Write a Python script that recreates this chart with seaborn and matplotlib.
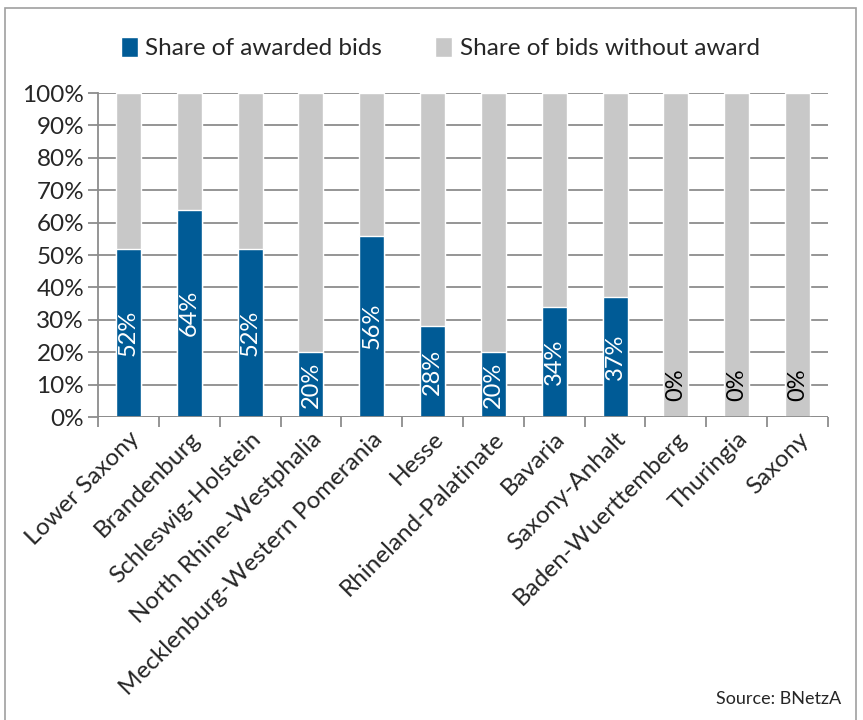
import pandas as pd
import seaborn as sns
import matplotlib.pyplot as plt
from matplotlib.patches import Rectangle
from matplotlib.ticker import PercentFormatter

# Data
states = ['Lower Saxony', 'Brandenburg', 'Schleswig-Holstein', 'North Rhine-Westphalia',
          'Mecklenburg-Western Pomerania', 'Hesse', 'Rhineland-Palatinate', 'Bavaria',
          'Saxony-Anhalt', 'Baden-Wuerttemberg', 'Thuringia', 'Saxony']
awarded = [52, 64, 52, 20, 56, 28, 20, 34, 37, 0, 0, 0]
total = [100] * len(states)

df = pd.DataFrame({'state': states, 'awarded': awarded, 'total': total})

blue = '#005b96'
grey = '#c8c8c8'
gridc = '#8c8c8c'

sns.set_style('white')
plt.rcParams['font.family'] = ['Lato', 'DejaVu Sans']

fig = plt.figure(figsize=(8.63, 7.2), dpi=100)
ax = fig.add_axes([0.1136, 0.4208, 0.8458, 0.45])

sns.barplot(data=df, x='state', y='total', color=grey, width=0.41, ax=ax,
            saturation=1, label='Share of bids without award', zorder=3)
sns.barplot(data=df, x='state', y='awarded', color=blue, width=0.41, ax=ax,
            saturation=1, label='Share of awarded bids', zorder=3)
if ax.get_legend() is not None:
    ax.get_legend().remove()

# data labels
for i, v in enumerate(awarded):
    if v > 0:
        ax.text(i, v / 2, f'{v}%', rotation=90, ha='center', va='center',
                color='white', fontsize=17, zorder=4)
    else:
        ax.text(i, 10, f'{v}%', rotation=90, ha='center', va='center',
                color='black', fontsize=17, zorder=4)

ax.set_ylim(0, 100)
ax.set_xlim(-0.5, len(states) - 0.5)
ax.set_yticks(range(0, 101, 10))
ax.yaxis.set_major_formatter(PercentFormatter(decimals=0))
ax.grid(axis='y', color=gridc, linewidth=1.3, zorder=0)
ax.set_axisbelow(True)
ax.set_xlabel('')
ax.set_ylabel('')

for s in ['top', 'right', 'bottom']:
    ax.spines[s].set_visible(False)
ax.spines['left'].set_color(gridc)
ax.spines['left'].set_linewidth(1.3)

ax.tick_params(axis='y', length=7, width=1.3, color=gridc, labelsize=17.5, pad=3, left=True)
ax.set_xticks(range(len(states)))
ax.set_xticklabels(states, rotation=45, ha='right', rotation_mode='anchor', fontsize=17.5)
ax.tick_params(axis='x', length=0, pad=8)
ax.set_xticks([i - 0.5 for i in range(len(states) + 1)], minor=True)
ax.tick_params(axis='x', which='minor', length=7, width=1.3, color=gridc, bottom=True)
ax.axhline(0, color=gridc, linewidth=1.3, zorder=5)

handles, labels = ax.get_legend_handles_labels()
order = [labels.index('Share of awarded bids'), labels.index('Share of bids without award')]
fig.legend([handles[k] for k in order], [labels[k] for k in order],
           loc='center', bbox_to_anchor=(0.51, 0.933), ncol=2, frameon=False,
           fontsize=17.5, handlelength=0.7, handleheight=0.9, handletextpad=0.3,
           columnspacing=2.2)

fig.text(0.975, 0.018, 'Source: BNetzA', ha='right', va='bottom', fontsize=13)

fig.patches.append(Rectangle((0.006, -0.01), 0.986, 0.999, transform=fig.transFigure,
                             fill=False, edgecolor='#a0a0a0', linewidth=1.2))

fig.savefig('out.png', dpi=100)
